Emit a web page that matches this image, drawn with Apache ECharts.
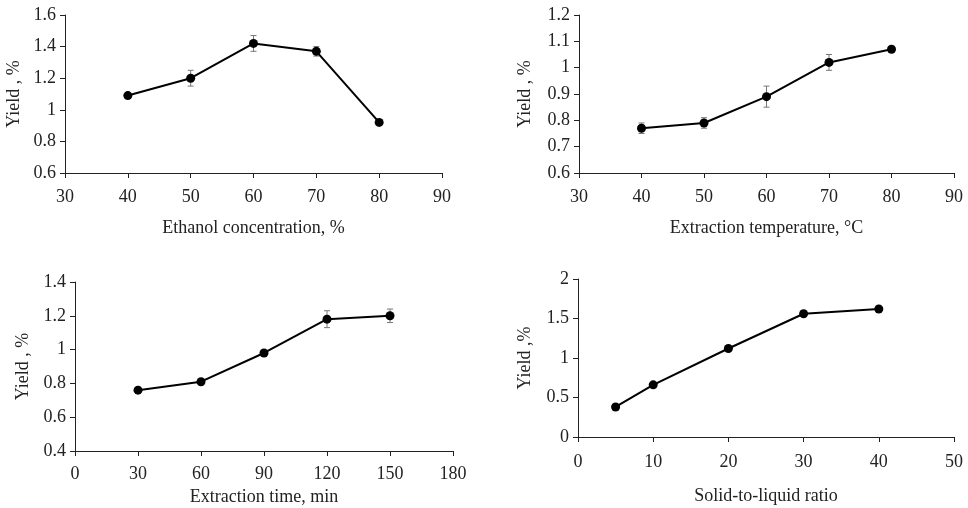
<!DOCTYPE html>
<html>
<head>
<meta charset="utf-8">
<script src="https://cdn.jsdelivr.net/npm/echarts@6/dist/echarts.min.js"></script>
<style>html,body{margin:0;padding:0;background:#fff;}#c{width:968px;height:508px;}</style>
</head>
<body>
<div id="c"></div>
<script>
// Panel 1: Ethanol concentration
const ethanolX = [40, 50, 60, 70, 80];
const ethanolY = [1.09, 1.20, 1.42, 1.37, 0.92];
const ethanolErr = [0.01, 0.05, 0.05, 0.03, 0.01];
// Panel 2: Extraction temperature
const tempX = [40, 50, 60, 70, 80];
const tempY = [0.77, 0.79, 0.89, 1.02, 1.07];
const tempErr = [0.02, 0.02, 0.04, 0.03, 0.01];
// Panel 3: Extraction time
const timeX = [30, 60, 90, 120, 150];
const timeY = [0.76, 0.81, 0.98, 1.18, 1.20];
const timeErr = [0.01, 0.01, 0.01, 0.05, 0.04];
// Panel 4: Solid-to-liquid ratio
const ratioX = [5, 10, 20, 30, 40];
const ratioY = [0.38, 0.66, 1.12, 1.56, 1.62];
const ratioErr = [0.01, 0.02, 0.02, 0.01, 0.03];

const xTitles = ['Ethanol concentration, %', 'Extraction temperature, \u00B0C', 'Extraction time, min', 'Solid-to-liquid ratio'];
const yTitles = ['Yield , %', 'Yield , %', 'Yield , %', 'Yield ,%'];

const FONT = '"Liberation Serif", "Times New Roman", serif';
const TXT = '#222';

const panels = [
  {x: ethanolX, y: ethanolY, e: ethanolErr, xr: [30, 90, 10], yr: [0.6, 1.6, 0.2],
   grid: {left: 65, top: 15, width: 377, height: 158}, xGap: 46, yGap: 42, xm: 15},
  {x: tempX, y: tempY, e: tempErr, xr: [30, 90, 10], yr: [0.6, 1.2, 0.1],
   grid: {left: 579, top: 15, width: 375, height: 158}, xGap: 46, yGap: 45, xm: 15},
  {x: timeX, y: timeY, e: timeErr, xr: [0, 180, 30], yr: [0.4, 1.4, 0.2],
   grid: {left: 75, top: 282, width: 378, height: 169}, xGap: 37, yGap: 43, xm: 14},
  {x: ratioX, y: ratioY, e: ratioErr, xr: [0, 50, 10], yr: [0, 2, 0.5],
   grid: {left: 578, top: 279, width: 376, height: 158}, xGap: 50, yGap: 44, xm: 16}
];

const grids = [], xAxes = [], yAxes = [], series = [];
panels.forEach((p, i) => {
  grids.push(Object.assign({outerBoundsMode: 'none', containLabel: false}, p.grid));
  const axisCommon = {
    axisLine: {show: true, lineStyle: {color: '#222', width: 1}},
    axisTick: {show: true, length: 5, lineStyle: {color: '#222'}},
    splitLine: {show: false},
    nameLocation: 'middle',
    nameTextStyle: {fontFamily: FONT, fontSize: 18, color: TXT}
  };
  xAxes.push(Object.assign({}, axisCommon, {
    type: 'value', gridIndex: i, min: p.xr[0], max: p.xr[1], interval: p.xr[2],
    name: xTitles[i], nameGap: p.xGap,
    axisLabel: {fontFamily: FONT, fontSize: 18, color: TXT, margin: p.xm}
  }));
  yAxes.push(Object.assign({}, axisCommon, {
    type: 'value', gridIndex: i, min: p.yr[0], max: p.yr[1], interval: p.yr[2],
    name: yTitles[i], nameGap: p.yGap, nameRotate: 90,
    axisLabel: {fontFamily: FONT, fontSize: 18, color: TXT, margin: 9}
  }));
  const errData = p.x.map((xv, k) => [xv, p.y[k] - p.e[k], p.y[k] + p.e[k]]);
  series.push({
    type: 'custom', xAxisIndex: i, yAxisIndex: i, z: 1, silent: true,
    data: errData,
    renderItem: function (params, api) {
      const xv = api.value(0);
      const lo = api.coord([xv, api.value(1)]);
      const hi = api.coord([xv, api.value(2)]);
      const cw = 3;
      const st = {stroke: '#777', lineWidth: 1};
      return {type: 'group', children: [
        {type: 'line', shape: {x1: hi[0], y1: hi[1], x2: lo[0], y2: lo[1]}, style: st},
        {type: 'line', shape: {x1: hi[0] - cw, y1: hi[1], x2: hi[0] + cw, y2: hi[1]}, style: st},
        {type: 'line', shape: {x1: lo[0] - cw, y1: lo[1], x2: lo[0] + cw, y2: lo[1]}, style: st}
      ]};
    }
  });
  series.push({
    type: 'line', xAxisIndex: i, yAxisIndex: i, z: 3,
    data: p.x.map((xv, k) => [xv, p.y[k]]),
    symbol: 'circle', symbolSize: 9, showSymbol: true,
    lineStyle: {color: '#000', width: 2},
    itemStyle: {color: '#000'},
    animation: false
  });
});

const chart = echarts.init(document.getElementById('c'));
chart.setOption({
  animation: false,
  backgroundColor: '#fff',
  grid: grids, xAxis: xAxes, yAxis: yAxes, series: series
});
</script>
</body>
</html>
